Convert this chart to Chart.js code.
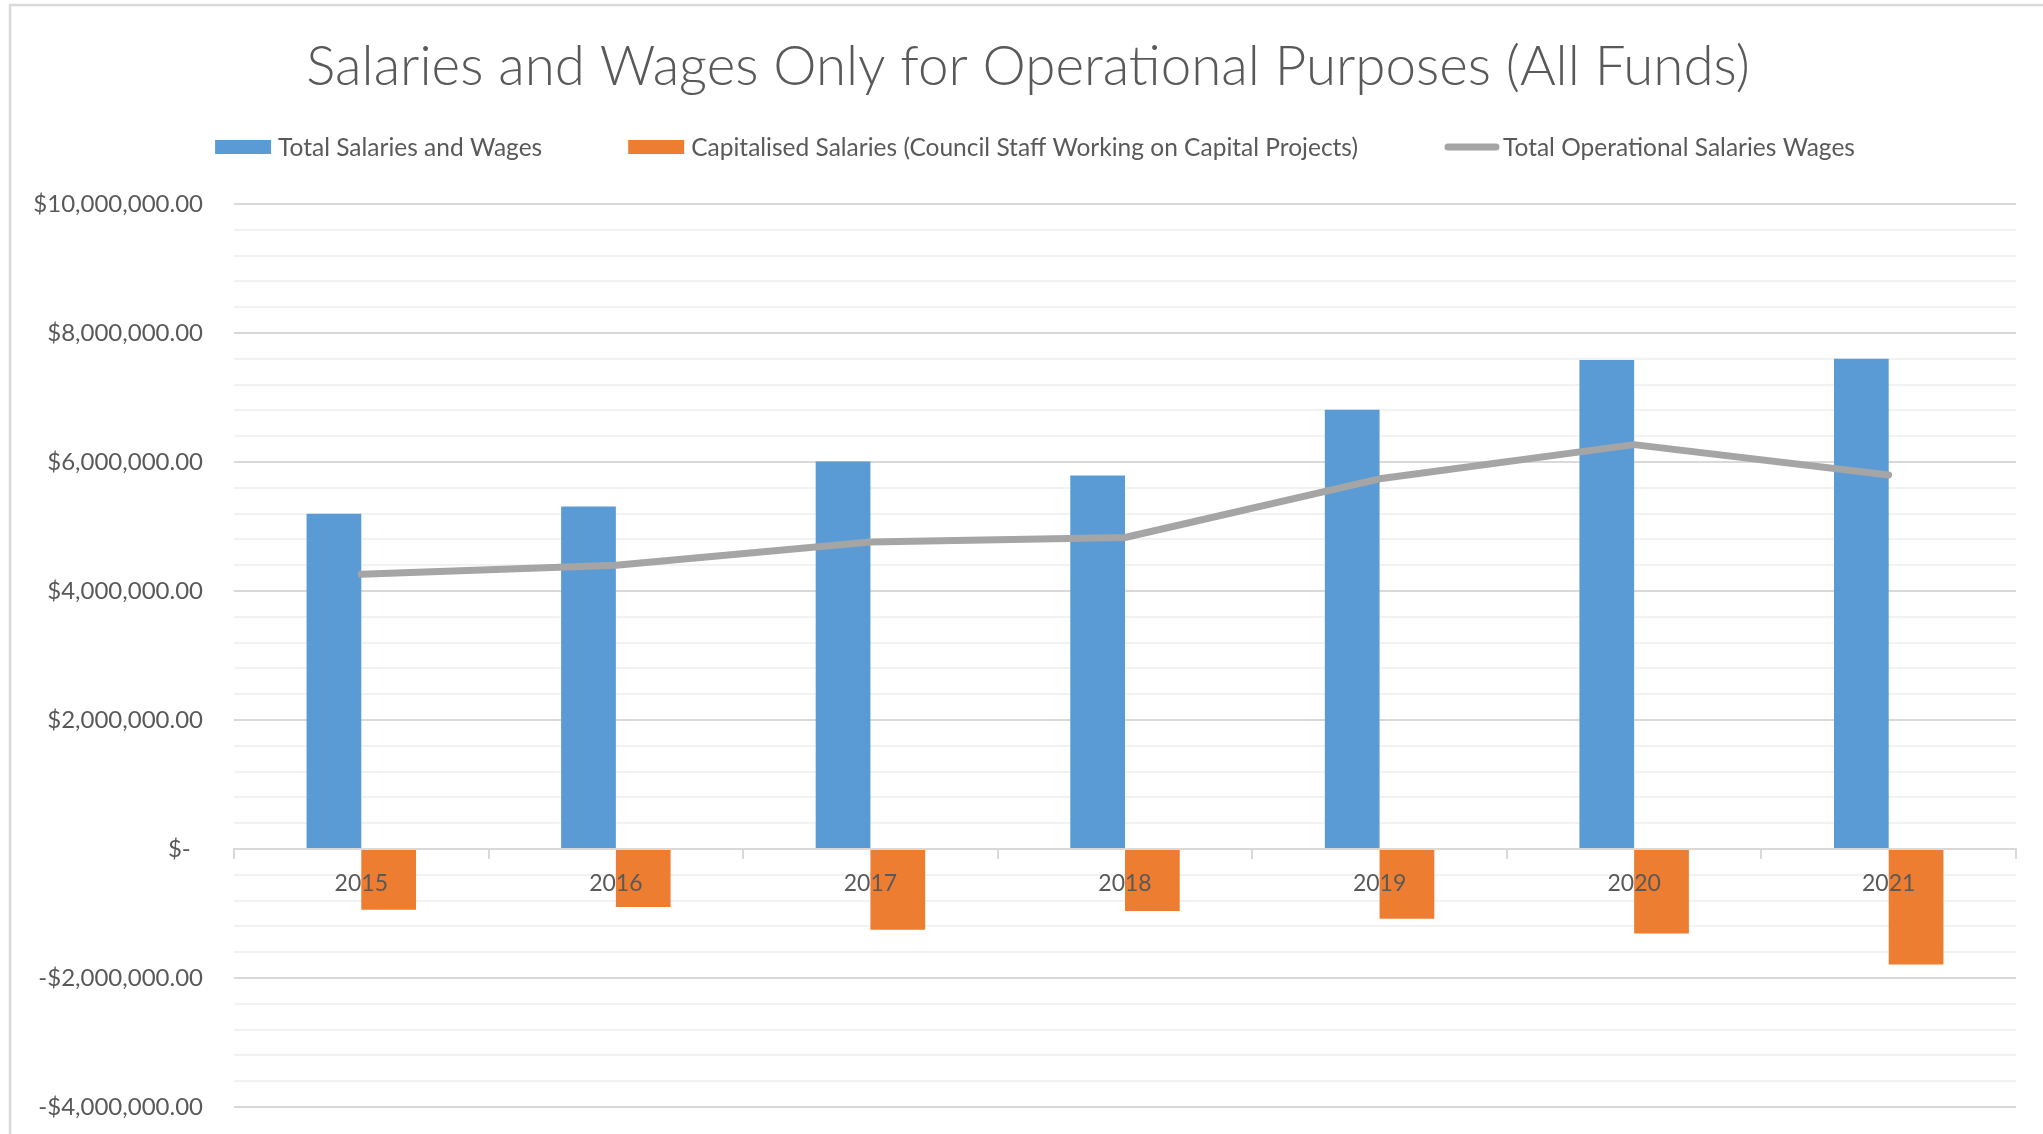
<!DOCTYPE html>
<html><head><meta charset="utf-8">
<script src="https://cdn.jsdelivr.net/npm/chart.js@4"></script>
<style>html,body{margin:0;padding:0;background:#fff;overflow:hidden}</style>
</head><body>
<canvas id="c" width="2043" height="1134"></canvas>
<script>
const chartTitle = 'Salaries and Wages Only for Operational Purposes (All Funds)';
const categories = ['2015', '2016', '2017', '2018', '2019', '2020', '2021'];
const seriesNames = ['Total Salaries and Wages', 'Capitalised Salaries (Council Staff Working on Capital Projects)', 'Total Operational Salaries Wages'];
const totalSalaries = [5200000, 5310000, 6010000, 5790000, 6810000, 7580000, 7600000];
const capitalisedSalaries = [-940000, -900000, -1250000, -960000, -1080000, -1310000, -1790000];
const operationalSalaries = [4260000, 4400000, 4760000, 4830000, 5740000, 6270000, 5800000];
const yTickValues = [-4000000, -2000000, 0, 2000000, 4000000, 6000000, 8000000, 10000000];
const yTickLabels = ['-$4,000,000.00', '-$2,000,000.00', '$-  ', '$2,000,000.00', '$4,000,000.00', '$6,000,000.00', '$8,000,000.00', '$10,000,000.00'];

const TEXT = '#595959';
const FONT = 'Lato';

function majorIndex(v) {
  for (let i = 0; i < yTickValues.length; i++) {
    if (Math.abs(v - yTickValues[i]) < 1) return i;
  }
  return -1;
}

const framePlugin = {
  id: 'frame',
  beforeDraw(chart) {
    const ctx = chart.ctx;
    ctx.save();
    ctx.fillStyle = '#ffffff';
    ctx.fillRect(0, 0, chart.width, chart.height);
    ctx.strokeStyle = '#d9d9d9';
    ctx.lineWidth = 2.5;
    ctx.beginPath();
    ctx.moveTo(10, chart.height);
    ctx.lineTo(10, 5);
    ctx.lineTo(chart.width, 5);
    ctx.stroke();
    ctx.restore();
  }
};

const legendPlugin = {
  id: 'customLegend',
  afterDraw(chart) {
    const ctx = chart.ctx;
    ctx.save();
    ctx.font = '24.5px ' + FONT;
    ctx.textBaseline = 'middle';
    ctx.textAlign = 'left';
    const boxW = 56, boxH = 14, gapItem = 86;
    const items = chart.data.datasets.map(ds => ({
      text: ds.label,
      isLine: ds.type === 'line',
      color: ds.type === 'line' ? ds.borderColor : ds.backgroundColor
    }));
    items.forEach(it => {
      it.gap = it.isLine ? 3 : 7;
      it.w = boxW + it.gap + ctx.measureText(it.text).width;
    });
    const total = items.reduce((s, it) => s + it.w, 0) + gapItem * (items.length - 1);
    let x = 1035 - total / 2;
    const cy = 147;
    items.forEach(it => {
      if (it.isLine) {
        ctx.strokeStyle = it.color;
        ctx.lineWidth = 7;
        ctx.lineCap = 'round';
        ctx.beginPath();
        ctx.moveTo(x + 4, cy);
        ctx.lineTo(x + boxW - 4, cy);
        ctx.stroke();
      } else {
        ctx.fillStyle = it.color;
        ctx.fillRect(x, cy - boxH / 2, boxW, boxH);
      }
      ctx.fillStyle = TEXT;
      ctx.fillText(it.text, x + boxW + it.gap, cy + 1);
      x += it.w + gapItem;
    });
    ctx.restore();
  }
};

new Chart(document.getElementById('c'), {
  data: {
    labels: categories,
    datasets: [
      { type: 'bar', label: seriesNames[0], data: totalSalaries, backgroundColor: '#5B9BD5', order: 1,
        categoryPercentage: 0.43, barPercentage: 1.0 },
      { type: 'bar', label: seriesNames[1], data: capitalisedSalaries, backgroundColor: '#ED7D31', order: 1,
        categoryPercentage: 0.43, barPercentage: 1.0 },
      { type: 'line', label: seriesNames[2], data: operationalSalaries, borderColor: '#A5A5A5', backgroundColor: '#A5A5A5',
        borderWidth: 7, pointRadius: 0, tension: 0, borderCapStyle: 'round', borderJoinStyle: 'round', order: 0 }
    ]
  },
  options: {
    responsive: false,
    animation: false,
    devicePixelRatio: 1,
    layout: { padding: { left: 40, right: 27, top: 0, bottom: 27 } },
    plugins: {
      legend: { display: false },
      tooltip: { enabled: false },
      title: {
        display: true, text: chartTitle, color: TEXT,
        font: { family: FONT, size: 54.7, weight: '300' },
        padding: { top: 35, bottom: 103.4 }
      }
    },
    scales: {
      x: {
        position: { y: 0 },
        offset: true,
        grid: { display: true, drawOnChartArea: false, drawTicks: true, tickLength: 9, offset: true, color: '#d9d9d9', lineWidth: 2 },
        border: { display: true, color: '#d9d9d9', width: 2 },
        ticks: { z: 1, color: TEXT, font: { family: FONT, size: 23 }, padding: 12, maxRotation: 0, autoSkip: false }
      },
      y: {
        min: -4000000, max: 10000000,
        afterFit: s => {
          s.width = 194;
          s.paddingTop = 0;
          s.paddingBottom = 0;
          s._computeLabelArea = function () { return undefined; };
        },
        border: { display: false },
        grid: {
          drawTicks: false,
          color: c => majorIndex(c.tick.value) >= 0 ? '#d9d9d9' : '#f2f2f2',
          lineWidth: 2
        },
        ticks: {
          stepSize: 400000, autoSkip: false, padding: 31, color: TEXT,
          font: { family: FONT, size: 24 },
          callback: v => { const i = majorIndex(v); return i >= 0 ? yTickLabels[i] : ''; }
        }
      }
    }
  },
  plugins: [framePlugin, legendPlugin]
});
</script>
</body></html>
